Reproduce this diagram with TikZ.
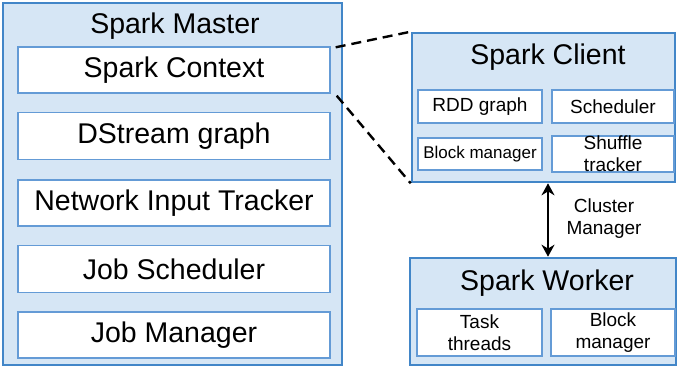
\documentclass[tikz,border=0pt]{standalone}
\usepackage{fontspec}
\setmainfont{Liberation Sans}
\usetikzlibrary{arrows.meta}
\definecolor{boxfill}{RGB}{214,230,245}
\definecolor{boxline}{RGB}{66,134,200}
\definecolor{innerline}{RGB}{100,155,214}
\begin{document}
\begin{tikzpicture}[x=1pt,y=-1pt,
  outerbox/.style={draw=boxline,line width=2.6pt,fill=boxfill,inner sep=0pt},
  innerbox/.style={draw=innerline,line width=1.4pt,fill=white,inner sep=0pt,align=center},
  bigtxt/.style={font=\fontsize{28.5}{31}\selectfont,inner sep=0pt},
  midtxt/.style={font=\fontsize{19}{22}\selectfont},
  dashline/.style={line width=2.4pt,dash pattern=on 10pt off 6pt},
  conn/.style={line width=2.6pt,{Stealth[length=12pt,width=13pt]}-{Stealth[length=12pt,width=13pt]}}
]
\useasboundingbox (0,0) rectangle (678,367);
% Spark Master
\node[outerbox,minimum width=339pt,minimum height=362pt] (master) at (172.5,184) {};
\node[bigtxt] (mtitle) at (175,26) {Spark Master};
\node[innerbox,bigtxt,minimum width=312pt,minimum height=46pt] (ctx) at (174,70) {Spark Context};
\node[innerbox,bigtxt,minimum width=312pt,minimum height=47pt] (dstream) at (174,136) {DStream graph};
\node[innerbox,bigtxt,minimum width=312pt,minimum height=46pt] (nit) at (174,203) {Network Input Tracker};
\node[innerbox,bigtxt,minimum width=312pt,minimum height=47pt] (jsched) at (174,269) {Job Scheduler};
\node[innerbox,bigtxt,minimum width=312pt,minimum height=46pt] (jman) at (174,335) {Job Manager};
% Spark Client
\node[outerbox,minimum width=263pt,minimum height=149pt] (client) at (543.5,107.5) {};
\node[bigtxt] (ctitle) at (548,57) {Spark Client};
\node[innerbox,midtxt,minimum width=124pt,minimum height=33pt] (rdd) at (480,106.5) {RDD graph};
\node[innerbox,midtxt,minimum width=122pt,minimum height=33pt] (csched) at (613,106.5) {Scheduler};
\node[innerbox,font=\fontsize{17}{20}\selectfont,minimum width=124pt,minimum height=32pt] (cblock) at (480,154) {Block manager};
\node[innerbox,font=\fontsize{19}{22}\selectfont,minimum width=122pt,minimum height=32pt,inner sep=0pt] (shuffle) at (613,154) {Shuffle\\tracker};
% Spark Worker
\node[outerbox,minimum width=266pt,minimum height=107pt] (worker) at (543,311.5) {};
\node[bigtxt] (wtitle) at (547,283) {Spark Worker};
\node[innerbox,midtxt,minimum width=125pt,minimum height=47pt] (task) at (479.5,332.5) {Task\\threads};
\node[innerbox,midtxt,minimum width=124pt,minimum height=47pt] (wblock) at (613,332.5) {Block\\manager};
% connectors
\draw[dashline] ([xshift=5pt,yshift=-1pt]ctx.north east) -- (client.north west);
\draw[dashline] ([xshift=6pt,yshift=-2pt]ctx.south east) -- (client.south west);
\draw[conn] ([xshift=4.5pt]client.south) -- ([xshift=5pt]worker.north);
\node[midtxt,align=center] (cm) at (604,219) {Cluster\\Manager};
\end{tikzpicture}
\end{document}
